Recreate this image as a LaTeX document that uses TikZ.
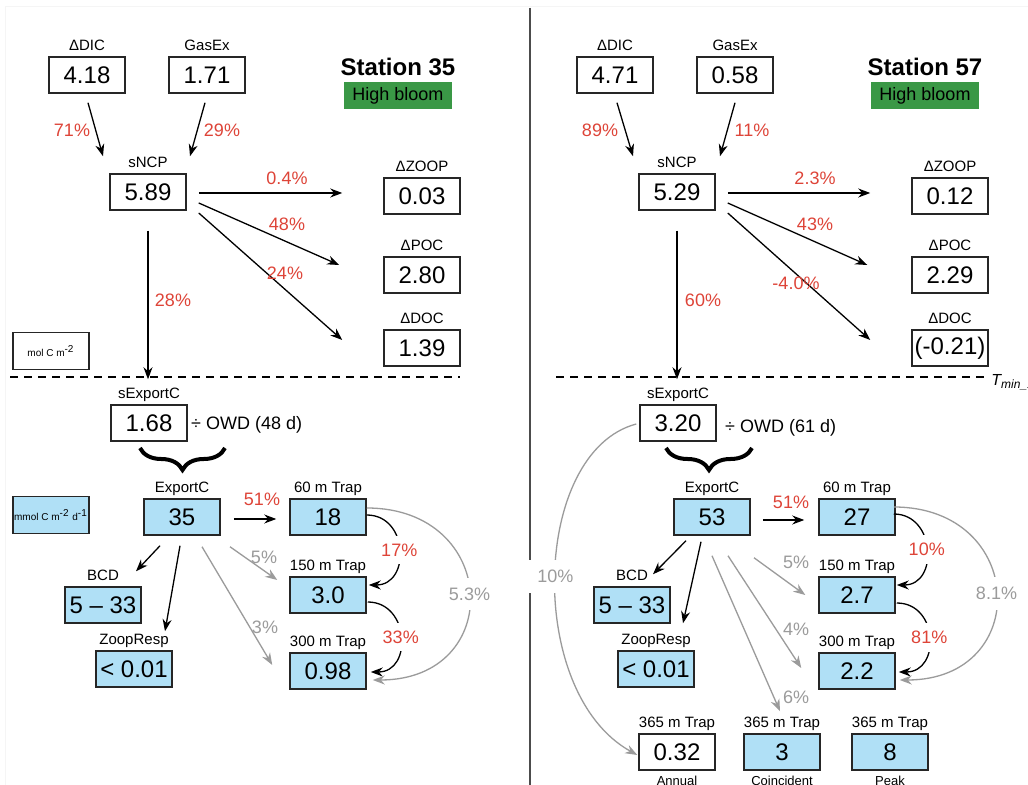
\documentclass[tikz,border=0pt]{standalone}
\usepackage{fontspec}
\setmainfont{Liberation Sans}
\usetikzlibrary{arrows.meta,decorations.pathreplacing}
\definecolor{trapblue}{RGB}{176,224,246}
\definecolor{bloomgreen}{RGB}{58,152,70}
\definecolor{fluxred}{RGB}{222,68,56}
\definecolor{fluxgrey}{RGB}{155,155,155}
\tikzset{
  box/.style={draw=black!85,line width=.75pt,minimum width=38pt,minimum height=18pt,inner sep=0pt,font=\fontsize{12}{12}\selectfont},
  bluebox/.style={box,fill=trapblue},
  nm/.style={font=\fontsize{7.5}{8}\selectfont,inner sep=2.5pt,text depth=0pt},
  sub/.style={nm,font=\fontsize{6.5}{7}\selectfont},
  pct/.style={font=\fontsize{9}{9}\selectfont,text=fluxred,inner sep=1pt},
  gpct/.style={pct,text=fluxgrey},
  flow/.style={->,line width=.65pt},
  gflow/.style={flow,draw=fluxgrey},
  unitbox/.style={draw=black!85,line width=.6pt,minimum width=38pt,minimum height=18.5pt,inner sep=0pt,font=\fontsize{5}{5}\selectfont},
  bloom/.style={fill=bloomgreen,minimum width=54pt,minimum height=13.5pt,inner sep=0pt,font=\fontsize{9}{9}\selectfont},
  station/.style={font=\bfseries\fontsize{12}{12}\selectfont,inner sep=0pt},
  owd/.style={font=\fontsize{9}{9}\selectfont,anchor=west,inner sep=0pt},
}

\begin{document}
\begin{tikzpicture}[x=0.5pt,y=-0.5pt,>={Stealth[length=6pt,width=4.5pt]}]
  \clip (0,0) rectangle (1028,785);
  \fill[white] (0,0) rectangle (1028,785);
  \draw[black!4] (5,785) -- (5,6) -- (1028,6);
  \draw[black!70,line width=1pt] (530,8) -- (530,785);

  % Station 35
  \node[station] (stA) at (398,67) {Station 35};
  \node[bloom] (hbA) at (398,96) {High bloom};
  \node[box,label={[nm]above:ΔDIC}] (dicA) at (87,75) {4.18};
  \node[box,label={[nm]above:GasEx}] (gasA) at (207,75) {1.71};
  \node[box,label={[nm]above:sNCP}] (sncpA) at (148,192) {5.89};
  \node[box,label={[nm]above:ΔZOOP}] (zoopA) at (422,196) {0.03};
  \node[box,label={[nm]above:ΔPOC}] (pocA) at (422,275) {2.80};
  \node[box,label={[nm]above:ΔDOC}] (docA) at (422,348) {1.39};
  \node[unitbox] (unitA) at (51,351) {mol C m\textsuperscript{-2}};
  \draw[dash pattern=on 4pt off 3pt,line width=.6pt] (10,377) -- (460,377);
  \node[box,label={[nm]above:sExportC}] (sexpA) at (149,423) {1.68};
  \node[owd] (owdA) at ([shift={(3,2)}]sexpA.east) {÷ OWD (48 d)};
  \draw[decorate,decoration={brace,mirror,amplitude=11pt},line width=2pt] (140,448) -- (225,448);
  \node[bluebox,label={[nm]above:ExportC}] (expA) at (182,517) {35};
  \node[unitbox,fill=trapblue] (unitA2) at (51,515) {mmol C m\textsuperscript{-2} d\textsuperscript{-1}};
  \node[bluebox,label={[nm]above:60 m Trap}] (t60A) at (328,517) {18};
  \node[bluebox,label={[nm]above:150 m Trap}] (t150A) at (328,595) {3.0};
  \node[bluebox,label={[nm]above:300 m Trap}] (t300A) at (328,671) {0.98};
  \node[bluebox,label={[nm]above:BCD}] (bcdA) at (103,605) {5 – 33};
  \node[bluebox,label={[nm]above:ZoopResp}] (zrA) at (134,669) {< 0.01};

  \draw[flow] ([shift={(1,9)}]dicA.south) -- ([shift={(-45,-17)}]sncpA.north);
  \draw[flow] ([shift={(-2,9)}]gasA.south) -- ([shift={(42,-17)}]sncpA.north);
  \draw[flow] ([shift={(12,1)}]sncpA.east) -- ([shift={(-41,-3)}]zoopA.west);
  \draw[flow] ([shift={(12,11)}]sncpA.east) -- ([shift={(-44,-10)}]pocA.west);
  \draw[flow] ([shift={(12,21)}]sncpA.east) -- ([shift={(-41,-8)}]docA.west);
  \draw[flow] ([shift={(0,20)}]sncpA.south) -- ([shift={(-1,-25)}]sexpA.north);
  \draw[flow] ([shift={(13,2)}]expA.east) -- ([shift={(-13,2)}]t60A.west);
  \draw[flow] ([shift={(-22,10)}]expA.south) -- ([shift={(33,-15)}]bcdA.north);
  \draw[flow] ([shift={(-2,10)}]expA.south) -- ([shift={(31,-19)}]zrA.north);
  \draw[gflow] ([shift={(48,11)}]expA.south) -- ([shift={(-12,-15)}]t150A.west);
  \draw[gflow] ([shift={(20,11)}]expA.south) -- ([shift={(-17,-6)}]t300A.west);
  \draw[flow] ([shift={(0,-2)}]t60A.east) .. controls +(42,0) and +(42,0) .. ([shift={(2,-10)}]t150A.east)
      node[pct,pos=.5,fill=white,inner sep=4pt] (p17A) {17\%};
  \draw[flow] ([shift={(1,7)}]t150A.east) .. controls +(42,0) and +(42,0) .. ([shift={(4,1)}]t300A.east)
      node[pct,pos=.5,fill=white,inner sep=4pt] (p33A) {33\%};
  \draw[gflow] ([shift={(0,-9)}]t60A.east) .. controls +(133,0) and +(133,0) .. ([shift={(6,9)}]t300A.east)
      node[gpct,pos=.5,fill=white,inner sep=5pt] (p53A) {5.3\%};

  \node[pct] (p71A) at (72,130) {71\%};
  \node[pct] (p29A) at (222,130) {29\%};
  \node[pct] (p04A) at (287,178) {0.4\%};
  \node[pct] (p48A) at (287,224) {48\%};
  \node[pct] (p24A) at (285,273) {24\%};
  \node[pct] (p28A) at (173,300) {28\%};
  \node[pct] (p51A) at (262,499) {51\%};
  \node[gpct] (p5A) at (264,557) {5\%};
  \node[gpct] (p3A) at (265,627) {3\%};

  % Station 57
  \node[station] (stB) at (925,67) {Station 57};
  \node[bloom] (hbB) at (925,96) {High bloom};
  \node[box,label={[nm]above:ΔDIC}] (dicB) at (615,75) {4.71};
  \node[box,label={[nm]above:GasEx}] (gasB) at (735,75) {0.58};
  \node[box,label={[nm]above:sNCP}] (sncpB) at (677,192) {5.29};
  \node[box,label={[nm]above:ΔZOOP}] (zoopB) at (950,196) {0.12};
  \node[box,label={[nm]above:ΔPOC}] (pocB) at (950,275) {2.29};
  \node[box,label={[nm]above:ΔDOC}] (docB) at (950,348) {(-0.21)};
  \draw[dash pattern=on 4pt off 3pt,line width=.6pt] (556,377) -- (985,377);
  \node[anchor=west,inner sep=0pt,font=\itshape\fontsize{8}{8}\selectfont] (tminB) at (991,382) {T\textsubscript{min\_100}};
  \node[box,label={[nm]above:sExportC}] (sexpB) at (678,423) {3.20};
  \node[owd] (owdB) at ([shift={(8,5)}]sexpB.east) {÷ OWD (61 d)};
  \draw[decorate,decoration={brace,mirror,amplitude=11pt},line width=2pt] (666,448) -- (752,448);
  \node[bluebox,label={[nm]above:ExportC}] (expB) at (712,517) {53};
  \node[bluebox,label={[nm]above:60 m Trap}] (t60B) at (857,517) {27};
  \node[bluebox,label={[nm]above:150 m Trap}] (t150B) at (857,595) {2.7};
  \node[bluebox,label={[nm]above:300 m Trap}] (t300B) at (857,671) {2.2};
  \node[bluebox,label={[nm]above:BCD}] (bcdB) at (632,605) {5 – 33};
  \node[bluebox,label={[nm]above:ZoopResp}] (zrB) at (656,669) {< 0.01};
  \node[box,label={[nm]above:365 m Trap},label={[sub]below:Annual}] (annB) at (677,752) {0.32};
  \node[bluebox,label={[nm]above:365 m Trap},label={[sub]below:Coincident}] (coinB) at (782,752) {3};
  \node[bluebox,label={[nm]above:365 m Trap},label={[sub]below:Peak}] (peakB) at (890,752) {8};

  \draw[flow] ([shift={(2,9)}]dicB.south) -- ([shift={(-44,-17)}]sncpB.north);
  \draw[flow] ([shift={(0,9)}]gasB.south) -- ([shift={(43,-17)}]sncpB.north);
  \draw[flow] ([shift={(12,1)}]sncpB.east) -- ([shift={(-41,-3)}]zoopB.west);
  \draw[flow] ([shift={(12,11)}]sncpB.east) -- ([shift={(-44,-10)}]pocB.west);
  \draw[flow] ([shift={(12,21)}]sncpB.east) -- ([shift={(-41,-8)}]docB.west);
  \draw[flow] ([shift={(0,20)}]sncpB.south) -- ([shift={(-1,-25)}]sexpB.north);
  \draw[flow] ([shift={(12,3)}]expB.east) -- ([shift={(-14,3)}]t60B.west);
  \draw[flow] ([shift={(-26,5)}]expB.south) -- ([shift={(21,-12)}]bcdB.north);
  \draw[flow] ([shift={(-11,6)}]expB.south) -- ([shift={(27,-27)}]zrB.north);
  \draw[gflow] ([shift={(42,22)}]expB.south) -- ([shift={(-13,0)}]t150B.west);
  \draw[gflow] ([shift={(16,20)}]expB.south) -- ([shift={(-17,-3)}]t300B.west);
  \draw[gflow] ([shift={(0,20)}]expB.south) -- ([shift={(-2,-22)}]coinB.north);
  \draw[flow] ([shift={(-2,-3)}]t60B.east) .. controls +(42,0) and +(42,0) .. ([shift={(1,-10)}]t150B.east)
      node[pct,pos=.5,fill=white,inner sep=4pt] (p10B) {10\%};
  \draw[flow] ([shift={(1,8)}]t150B.east) .. controls +(42,0) and +(42,0) .. ([shift={(3,1)}]t300B.east)
      node[pct,pos=.5,fill=white,inner sep=4pt] (p81B) {81\%};
  \draw[gflow] ([shift={(-2,-10)}]t60B.east) .. controls +(133,0) and +(133,0) .. ([shift={(4,9)}]t300B.east)
      node[gpct,pos=.5,fill=white,inner sep=5pt] (p81gB) {8.1\%};
  \draw[gflow] ([shift={(-3,1)}]sexpB.west) .. controls +(-105,28) and +(-112,-62) .. ([shift={(-1,3)}]annB.west)
      node[gpct,pos=.5,fill=white,inner sep=5pt] (p10gB) {10\%};

  \node[pct] (p89B) at (600,130) {89\%};
  \node[pct] (p11B) at (752,130) {11\%};
  \node[pct] (p23B) at (815,178) {2.3\%};
  \node[pct] (p43B) at (815,224) {43\%};
  \node[pct] (p40B) at (796,283) {-4.0\%};
  \node[pct] (p60B) at (703,300) {60\%};
  \node[pct] (p51B) at (791,502) {51\%};
  \node[gpct] (p5B) at (796,562) {5\%};
  \node[gpct] (p4B) at (796,629) {4\%};
  \node[gpct] (p6B) at (796,697) {6\%};
\end{tikzpicture}
\end{document}
